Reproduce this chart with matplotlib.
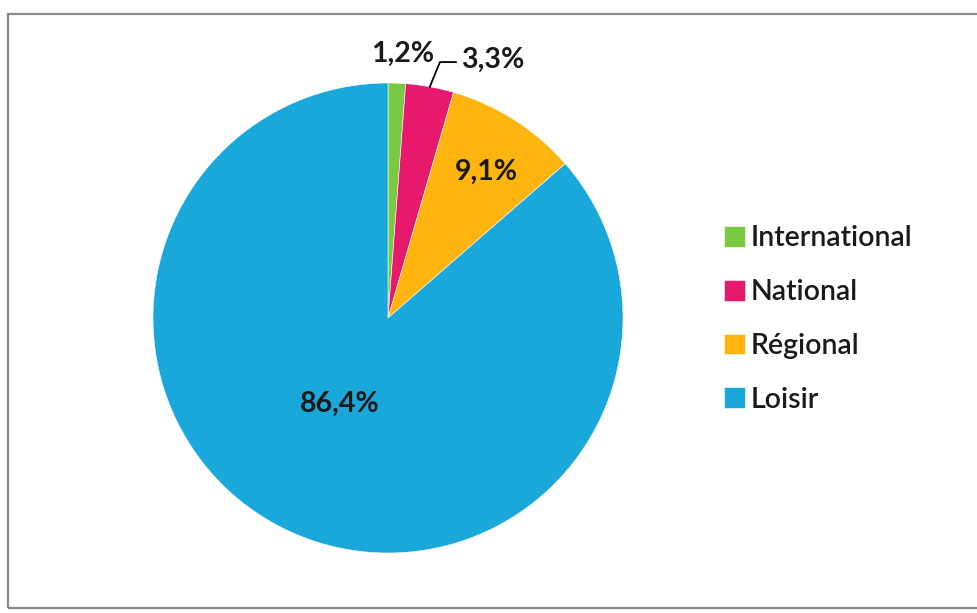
import numpy as np
import matplotlib.pyplot as plt
from matplotlib.patches import Rectangle

# données
categories = ["International", "National", "Régional", "Loisir"]
shares = [1.2, 3.3, 9.1, 86.4]
labels = ["1,2%", "3,3%", "9,1%", "86,4%"]
colors = ["#7AC943", "#E6196D", "#FFB40F", "#1AA7D9"]

plt.rcParams["font.family"] = ["Lato", "DejaVu Sans"]

fig = plt.figure(figsize=(9.77, 6.13), dpi=100)
W, H = 977, 613

# cadre gris du graphique
fig.patches.append(Rectangle((8 / W, 5 / H), 1.2, (608 - 14) / H, transform=fig.transFigure,
                             fill=False, edgecolor="#8a8a8a", linewidth=1.6))

cx, cy, r = 388, 318, 235
ax = fig.add_axes([(cx - r) / W, (H - cy - r) / H, 2 * r / W, 2 * r / H])
wedges, _ = ax.pie(shares, colors=colors, startangle=90, counterclock=False, radius=1,
                   wedgeprops=dict(linewidth=0.4, edgecolor="white"))
ax.set_xlim(-1, 1)
ax.set_ylim(-1, 1)
ax.set_aspect("equal")
ax.axis("off")

# positions des étiquettes (rayon relatif, décalage angulaire)
label_pos = [(1.125, -1.0), (None, None), (0.75, -1.5), (0.42, -4.5)]
for w, lab, (rr, dang) in zip(wedges, labels, label_pos):
    mid = np.deg2rad((w.theta1 + w.theta2) / 2)
    if rr is None:
        # étiquette avec ligne de rappel
        px, py = np.cos(mid), np.sin(mid)
        ex, ey = 0.221, 1.089
        hx = 0.289
        ax.plot([px * 1.0, ex, hx], [py * 1.0, ey, ey], color="black", lw=1.3, clip_on=False)
        ax.text(hx + 0.02, ey + 0.01, lab, ha="left", va="center", fontsize=20.5,
                fontweight="bold", color="#1a1a1a")
        continue
    a = mid + np.deg2rad(dang)
    ax.text(rr * np.cos(a), rr * np.sin(a), lab, ha="center", va="center", fontsize=20.5,
            fontweight="bold", color="#1a1a1a")

leg = fig.legend(wedges, categories, loc="center left", bbox_to_anchor=(698 / W, (H - 319) / H),
                 frameon=False, handlelength=0.75, handleheight=0.75,
                 handletextpad=0.2, labelspacing=0.98,
                 prop=dict(size=20.5, weight="semibold"))
for t in leg.get_texts():
    t.set_color("#1a1a1a")

fig.savefig("out.png", dpi=100)
